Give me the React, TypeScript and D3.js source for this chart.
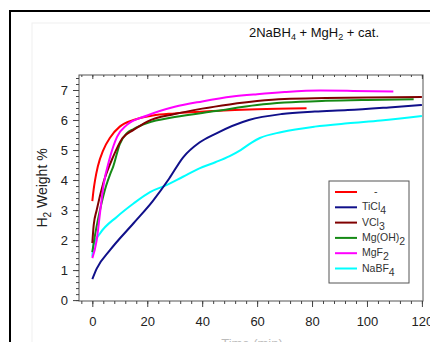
import React, { useRef, useEffect } from "react";
import * as d3 from "d3";

// series: time (min) and H2 weight %
const redT = [0, 0.5, 1, 2, 4, 6.5, 10, 15, 22, 30, 44, 60, 78];
const redV = [3.3, 3.7, 4.0, 4.45, 5.0, 5.42, 5.78, 6.0, 6.15, 6.22, 6.3, 6.36, 6.39];

const ticl4T = [0, 1.6, 6.5, 15, 22, 28, 33, 39, 45, 57, 69, 81, 93, 108, 120];
const ticl4V = [0.7, 1.05, 1.67, 2.56, 3.3, 4.05, 4.75, 5.25, 5.55, 6.0, 6.2, 6.28, 6.33, 6.42, 6.5];

const vcl3T = [0, 0.5, 1.6, 4, 7.6, 11, 15, 20, 30, 40, 50, 60, 70, 85, 100, 120];
const vcl3V = [1.9, 2.5, 3.0, 3.9, 4.78, 5.4, 5.67, 5.95, 6.2, 6.38, 6.52, 6.63, 6.7, 6.73, 6.75, 6.77];

const mgohT = [0, 0.5, 2.8, 5, 6.5, 7.6, 10, 12.5, 15, 20, 30, 45, 60, 70, 85, 100, 117];
const mgohV = [1.6, 1.9, 3.0, 3.8, 4.2, 4.45, 5.2, 5.55, 5.7, 5.9, 6.1, 6.3, 6.5, 6.58, 6.64, 6.67, 6.69];

const mgf2T = [0, 1.6, 2.8, 4, 6.5, 9, 12.5, 20, 30, 40, 51, 60, 70, 83, 95, 109.6];
const mgf2V = [1.4, 2.0, 2.9, 3.78, 4.78, 5.44, 5.83, 6.15, 6.44, 6.62, 6.78, 6.86, 6.93, 6.98, 6.97, 6.95];

const nabf4T = [0, 0.5, 2.8, 9, 15, 21, 27, 33, 39, 45, 50, 54, 58, 61, 69, 81, 93, 105, 120];
const nabf4V = [1.45, 1.85, 2.22, 2.78, 3.22, 3.6, 3.83, 4.11, 4.39, 4.6, 4.8, 5.0, 5.25, 5.4, 5.6, 5.78, 5.89, 5.98, 6.13];

// legend: [main text, subscript]
const labels: [string, string][] = [["-", ""], ["TiCl", "4"], ["VCl", "3"], ["Mg(OH)", "2"], ["MgF", "2"], ["NaBF", "4"]];
const colors = ["#ff0000", "#10108a", "#800000", "#158a15", "#ff00ff", "#00ffff"];

const xTicks = [0, 20, 40, 60, 80, 100, 120];
const yTicks = [0, 1, 2, 3, 4, 5, 6, 7];

const App: React.FC = () => {
    const svgRef = useRef<SVGSVGElement | null>(null);

    useEffect(() => {
        if (!svgRef.current) return;
        const width = 430, height = 342;
        const left = 79, right = 423, top = 75, bottom = 301;

        const x = d3.scaleLinear().domain([-4.85, 120.4]).range([left, right]);
        const y = d3.scaleLinear().domain([-0.03, 7.5]).range([bottom, top]);

        const svg = d3.select(svgRef.current)
            .attr("width", width)
            .attr("height", height)
            .style("font-family", "'Liberation Sans', Arial, sans-serif");
        svg.selectAll("*").remove();

        svg.append("rect").attr("width", width).attr("height", height).attr("fill", "#fff");

        // outer frame + faint inner panel
        svg.append("rect").attr("x", 32).attr("y", 23).attr("width", 420).attr("height", 340)
            .attr("fill", "none").attr("stroke", "#f0f0f0");
        svg.append("rect").attr("x", 10).attr("y", 11).attr("width", 440).attr("height", 350)
            .attr("fill", "none").attr("stroke", "#000").attr("stroke-width", 2);

        // plot box
        svg.append("rect").attr("x", left).attr("y", top).attr("width", right - left).attr("height", bottom - top)
            .attr("fill", "#fff").attr("stroke", "#555").attr("stroke-width", 1);

        const axStyle = (g: any) => {
            g.select(".domain").remove();
            g.selectAll("line").attr("stroke", "#444");
            g.selectAll("text").attr("fill", "#222").style("font-size", "13px")
                .style("font-family", "'Liberation Sans', Arial, sans-serif");
        };

        // bottom axis
        svg.append("g").attr("transform", `translate(0,${bottom})`)
            .call(d3.axisBottom(x).tickValues(d3.range(-4, 121, 4)).tickSize(3).tickFormat(() => ""))
            .call(axStyle);
        svg.append("g").attr("transform", `translate(0,${bottom})`)
            .call(d3.axisBottom(x).tickValues(xTicks).tickSize(6).tickPadding(10).tickFormat(d3.format("d")))
            .call(axStyle);

        // top axis, ticks inward
        svg.append("g").attr("transform", `translate(0,${top})`)
            .call(d3.axisBottom(x).tickValues(d3.range(-4, 121, 4)).tickSize(2).tickFormat(() => ""))
            .call(axStyle);
        svg.append("g").attr("transform", `translate(0,${top})`)
            .call(d3.axisBottom(x).tickValues(xTicks).tickSize(4).tickFormat(() => ""))
            .call(axStyle);

        // left axis
        svg.append("g").attr("transform", `translate(${left},0)`)
            .call(d3.axisLeft(y).tickValues(d3.range(0, 7.41, 0.2)).tickSize(3).tickFormat(() => ""))
            .call(axStyle);
        svg.append("g").attr("transform", `translate(${left},0)`)
            .call(d3.axisLeft(y).tickValues(yTicks).tickSize(6).tickPadding(5).tickFormat(d3.format("d")))
            .call(axStyle);

        // series
        const series = [
            [redT, redV], [ticl4T, ticl4V], [vcl3T, vcl3V],
            [mgohT, mgohV], [mgf2T, mgf2V], [nabf4T, nabf4V],
        ];
        const line = d3.line<[number, number]>()
            .x(d => x(d[0])).y(d => y(d[1]))
            .curve(d3.curveMonotoneX);
        const order = [5, 1, 0, 3, 2, 4];
        order.forEach(i => {
            const [t, v] = series[i];
            const pts = t.map((tt, k) => [tt, v[k]] as [number, number]);
            svg.append("path").attr("d", line(pts))
                .attr("fill", "none").attr("stroke", colors[i]).attr("stroke-width", 2);
        });

        // legend
        const lg = svg.append("g");
        lg.append("rect").attr("x", 329).attr("y", 181).attr("width", 80).attr("height", 102)
            .attr("fill", "#fff").attr("stroke", "#555");
        labels.forEach((lab, i) => {
            const yy = 192 + i * 15.3;
            lg.append("line").attr("x1", 335).attr("x2", 357).attr("y1", yy).attr("y2", yy)
                .attr("stroke", colors[i]).attr("stroke-width", 2);
            const txt = lg.append("text").attr("x", i === 0 ? 374 : 362).attr("y", yy + 3)
                .attr("fill", "#333").style("font-size", "10.5px");
            txt.append("tspan").text(lab[0]);
            if (lab[1]) txt.append("tspan").attr("dy", 4).style("font-size", "10.5px").text(lab[1]);
        });

        // title
        const title = svg.append("text").attr("x", 314).attr("y", 37).attr("text-anchor", "middle")
            .attr("fill", "#111").style("font-size", "13px");
        title.append("tspan").text("2NaBH");
        title.append("tspan").attr("dy", 3).style("font-size", "9px").text("4");
        title.append("tspan").attr("dy", -3).text(" + MgH");
        title.append("tspan").attr("dy", 3).style("font-size", "9px").text("2");
        title.append("tspan").attr("dy", -3).text(" + cat.");

        // y label
        const yl = svg.append("text").attr("transform", `translate(47,188) rotate(-90)`)
            .attr("text-anchor", "middle").attr("fill", "#222").style("font-size", "14px");
        yl.append("tspan").text("H");
        yl.append("tspan").attr("dy", 4).style("font-size", "10px").text("2");
        yl.append("tspan").attr("dy", -4).text(" Weight %");

        // x label (mostly cut off by the window edge, as in the source)
        svg.append("text").attr("x", 252).attr("y", 348).attr("text-anchor", "middle")
            .attr("fill", "#bbb").style("font-size", "13px").text("Time (min)");
    }, []);

    return (
        <div style={{ position: "fixed", left: 0, top: 0 }}>
            <svg ref={svgRef} style={{ display: "block" }} />
        </div>
    );
};

export default App;
